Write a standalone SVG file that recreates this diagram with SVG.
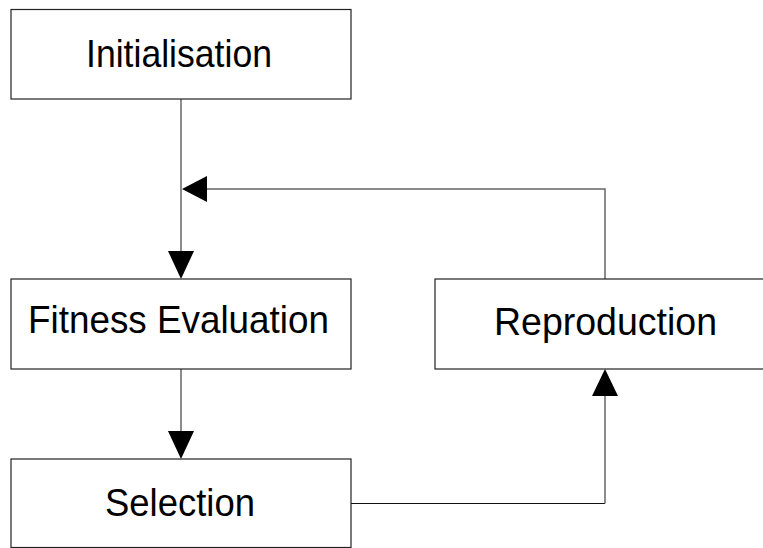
<svg xmlns="http://www.w3.org/2000/svg" width="763" height="548" viewBox="0 0 763 548">
<style>
.box{fill:#fff;stroke:#222;stroke-width:1.2}
.lbl{font-family:"Liberation Sans",Arial,sans-serif;font-size:39.5px;fill:#000;text-anchor:middle}
.con{fill:none;stroke:#666;stroke-width:1.5}
.conk{fill:none;stroke:#111;stroke-width:1.2}
.ah{fill:#000}
</style>
<rect width="763" height="548" fill="#fff"/>
<g id="connectors">
<path class="con" d="M181 99 V252"/>
<polygon class="ah" points="168,251 194,251 181,279"/>
<path class="con" d="M181 369 V432"/>
<polygon class="ah" points="168,431 194,431 181,459"/>
<path class="conk" d="M351 503.5 H605"/>
<path class="con" d="M605 503.5 V396"/>
<polygon class="ah" points="592,396 618,396 605,369"/>
<path class="con" d="M605 279 V189 H207"/>
<polygon class="ah" points="207,176 207,202 182,189"/>
</g>
<g id="initialisation">
<rect class="box" x="11" y="9.5" width="340" height="89.5"/>
<text class="lbl" x="179" y="67" textLength="186" lengthAdjust="spacingAndGlyphs">Initialisation</text>
</g>
<g id="fitness">
<rect class="box" x="11" y="279" width="340" height="90"/>
<text class="lbl" x="178.5" y="333" textLength="301" lengthAdjust="spacingAndGlyphs">Fitness Evaluation</text>
</g>
<g id="reproduction">
<rect class="box" x="435" y="279" width="340" height="90"/>
<text class="lbl" x="605.5" y="335" textLength="223" lengthAdjust="spacingAndGlyphs">Reproduction</text>
</g>
<g id="selection">
<rect class="box" x="11" y="459" width="340" height="88.5"/>
<text class="lbl" x="180" y="516" textLength="150" lengthAdjust="spacingAndGlyphs">Selection</text>
</g>
</svg>
